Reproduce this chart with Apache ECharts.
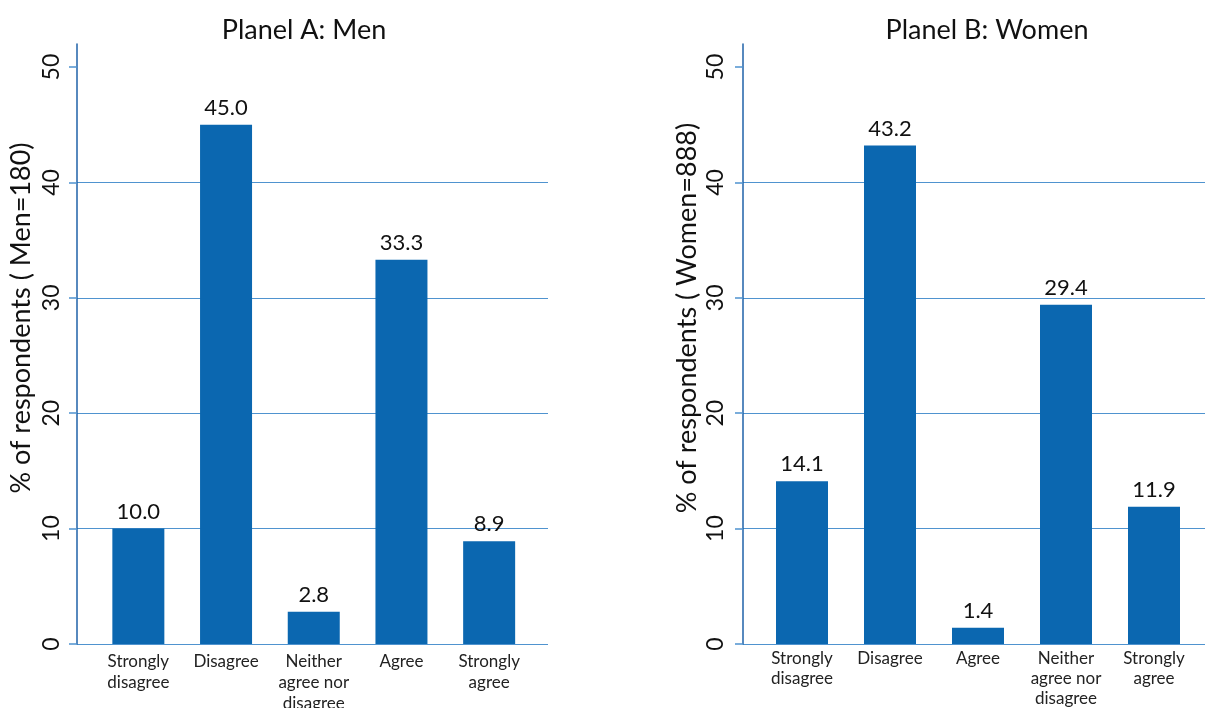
<!DOCTYPE html>
<html>
<head>
<meta charset="utf-8">
<script src="https://cdn.jsdelivr.net/npm/echarts@6/dist/echarts.min.js"></script>
<style>
  html, body { margin: 0; padding: 0; background: #fff; }
  #chart { width: 1205px; height: 708px; }
</style>
</head>
<body>
<div id="chart"></div>
<script>
// Survey responses, percent of respondents per answer
const menCategories = ['Strongly\ndisagree', 'Disagree', 'Neither\nagree nor\ndisagree', 'Agree', 'Strongly\nagree'];
const menValues = [10.0, 45.0, 2.8, 33.3, 8.9];

const womenCategories = ['Strongly\ndisagree', 'Disagree', 'Agree', 'Neither\nagree nor\ndisagree', 'Strongly\nagree'];
const womenValues = [14.1, 43.2, 1.4, 29.4, 11.9];

const panelTitles = ['Planel A: Men', 'Planel B: Women'];
const axisNames = ['% of respondents ( Men=180)', '% of respondents ( Women=888)'];
const yTicks = [0, 10, 20, 30, 40, 50];

const FONT = 'Lato, "Open Sans", sans-serif';
const BAR = '#0b67b0';
const AXIS = '#1f62a8';
const GRIDLINE = '#4f93cf';

const TOP = 44, HEIGHT = 600, YMAX = 52;

// Each panel: one frame grid (axis line, ticks, gridlines) and one grid for the bars
const grids = [
  { left: 77, top: TOP, width: 471, height: HEIGHT, outerBoundsMode: 'none' },
  { left: 94.5, top: TOP, width: 438.5, height: HEIGHT, outerBoundsMode: 'none' },
  { left: 743, top: TOP, width: 466, height: HEIGHT, outerBoundsMode: 'none' },
  { left: 758, top: TOP, width: 440, height: HEIGHT, outerBoundsMode: 'none' }
];

function frameY(gridIndex, name, nameGap, labelMargin) {
  return {
    type: 'value', gridIndex, min: 0, max: YMAX, interval: 10,
    name, nameLocation: 'middle', nameGap, nameRotate: 90,
    nameTextStyle: { fontFamily: FONT, fontSize: 27, color: '#111', padding: [0, 0, 0, 52] },
    axisLine: { show: true, lineStyle: { color: AXIS, width: 1.5 } },
    axisTick: { show: true, length: 8, customValues: yTicks, lineStyle: { color: GRIDLINE, width: 1.5 } },
    axisLabel: { rotate: 90, margin: labelMargin, customValues: yTicks, fontFamily: FONT, fontSize: 23, color: '#111' },
    splitLine: { show: true, showMaxLine: false, lineStyle: { color: GRIDLINE, width: 1.2 } }
  };
}
function hiddenY(gridIndex) {
  return { type: 'value', gridIndex, min: 0, max: YMAX, interval: 10, show: false, splitLine: { show: false } };
}
function hiddenX(gridIndex) {
  return { type: 'value', gridIndex, min: 0, max: 1, show: false, splitLine: { show: false } };
}
function catX(gridIndex, data, margin, lineHeight) {
  return {
    type: 'category', gridIndex, data,
    axisLine: { show: false }, axisTick: { show: false },
    axisLabel: { interval: 0, margin, fontFamily: FONT, fontSize: 17, lineHeight, color: '#222' }
  };
}
function barSeries(axisIndex, data) {
  return {
    type: 'bar', xAxisIndex: axisIndex, yAxisIndex: axisIndex, data,
    barWidth: 52, itemStyle: { color: BAR },
    label: {
      show: true, position: 'top', distance: 6,
      fontFamily: FONT, fontSize: 22, color: '#111',
      formatter: p => p.value.toFixed(1)
    }
  };
}

const chart = echarts.init(document.getElementById('chart'), null, { renderer: 'canvas' });
chart.setOption({
  backgroundColor: '#fff',
  animation: false,
  title: [
    { text: panelTitles[0], left: 299, top: 12, textAlign: 'center',
      textStyle: { fontFamily: FONT, fontSize: 27, fontWeight: 'normal', color: '#111' } },
    { text: panelTitles[1], left: 982, top: 12, textAlign: 'center',
      textStyle: { fontFamily: FONT, fontSize: 27, fontWeight: 'normal', color: '#111' } }
  ],
  grid: grids,
  xAxis: [hiddenX(0), catX(1, menCategories, 7, 21), hiddenX(2), catX(3, womenCategories, 5, 20)],
  yAxis: [frameY(0, axisNames[0], 42, 14), hiddenY(1), frameY(2, axisNames[1], 42, 16), hiddenY(3)],
  series: [barSeries(1, menValues), barSeries(3, womenValues)]
});
</script>
</body>
</html>
